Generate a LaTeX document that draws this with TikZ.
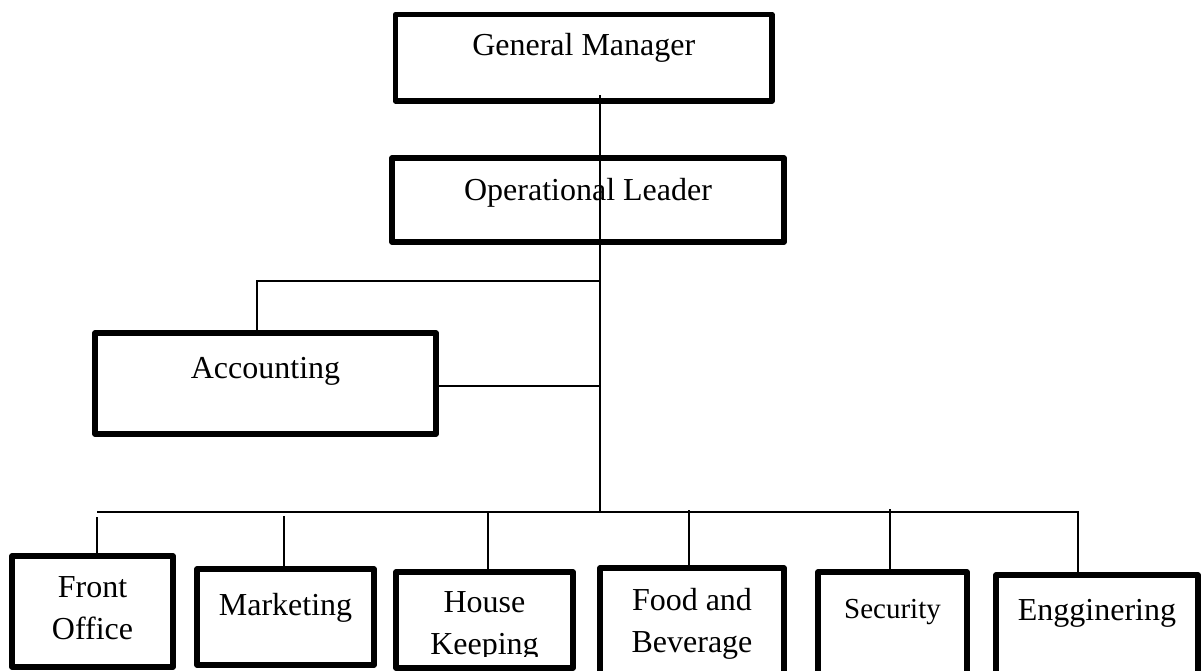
\documentclass[tikz,border=0pt]{standalone}
\usepackage{fontspec}
\setmainfont{Liberation Serif}
\newcommand{\boxtext}[2]{\raisebox{#1pt}[0pt][0pt]{\begin{tabular}[t]{@{}c@{}}#2\end{tabular}}}
\begin{document}
\begin{tikzpicture}[x=1pt,y=-1pt,
  unitbox/.style={draw, line width=5.5pt, line join=round, inner sep=0pt,
    font=\fontsize{32}{42}\selectfont},
  link/.style={line width=1.8pt}]
\clip (0,0) rectangle (1201,670);
\fill[white] (0,0) rectangle (1201,670);
% boxes
\node[unitbox, minimum width=376.5pt, minimum height=86.5pt] (gm) at (583.75,57.75) {\boxtext{2.75}{General Manager}};
\node[unitbox, minimum width=392pt, minimum height=84pt] (op) at (588,200) {\boxtext{0}{Operational Leader}};
\node[unitbox, minimum width=341pt, minimum height=101pt] (acc) at (265.5,383.5) {\boxtext{5.5}{Accounting}};
\node[unitbox, minimum width=161pt, minimum height=111pt] (fo) at (92.5,611.5) {\boxtext{14.5}{Front\\Office}};
\node[unitbox, minimum width=177pt, minimum height=96pt] (mk) at (285.5,617) {\boxtext{2}{Marketing}};
\node[unitbox, minimum width=177pt, minimum height=96pt] (hk) at (484.5,620) {\boxtext{8}{House\\Keeping}};
\node[unitbox, minimum width=184pt, minimum height=112pt] (fb) at (692,624) {\boxtext{14}{Food and\\Beverage}};
\node[unitbox, minimum width=149pt, minimum height=108pt, font=\fontsize{29}{38}\selectfont] (sec) at (892.5,626) {\boxtext{8}{Security}};
\node[unitbox, minimum width=202pt, minimum height=105pt] (eng) at (1097,627.5) {\boxtext{7.5}{Engginering}};
% bottom of "Keeping" hidden by the box edge
\fill[white] (399,657) rectangle (570,665);
% connectors
\coordinate (trunktop) at (600,95);
\coordinate (ja) at (600,281);
\coordinate (jb) at (600,386);
\coordinate (jc) at (600,512);
\coordinate (busL) at (97,512);
\coordinate (busR) at (1078,512);
\draw[link] (trunktop) -- (jc);
\draw[link] ([xshift=-8.5pt]acc.north) |- (ja);
\draw[link] (acc.east |- jb) -- (jb);
\draw[link] (busL) -- (busR) -- (eng.north -| busR);
\draw[link, shorten >=5pt] (fo.north -| busL) -- (busL);
\draw[link, shorten >=4pt] ([xshift=-1.5pt]mk.north) -- ([xshift=-1.5pt]mk.north |- busL);
\draw[link] ([xshift=3.5pt]hk.north) -- ([xshift=3.5pt]hk.north |- busL);
\draw[link, shorten >=-2pt] ([xshift=-3pt]fb.north) -- ([xshift=-3pt]fb.north |- busL);
\draw[link, shorten >=-3pt] ([xshift=-2.5pt]sec.north) -- ([xshift=-2.5pt]sec.north |- busL);
\end{tikzpicture}
\end{document}
